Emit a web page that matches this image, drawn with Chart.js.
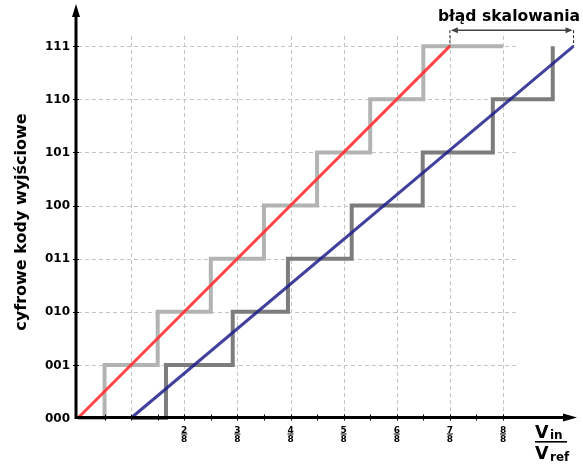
<!DOCTYPE html>
<html>
<head>
<meta charset="utf-8">
<script src="https://cdn.jsdelivr.net/npm/chart.js@4/dist/chart.umd.min.js"></script>
<style>
  html, body { margin: 0; padding: 0; background: #fff; }
  #wrap { width: 583px; height: 469px; }
</style>
</head>
<body>
<div id="wrap"><canvas id="c" width="583" height="469"></canvas></div>
<script>
// Output codes of a 3-bit converter and their labels
const codes = [0, 1, 2, 3, 4, 5, 6, 7];
const codeLabels = ['000', '001', '010', '011', '100', '101', '110', '111'];

// Ideal transfer line (Vin/Vref -> code)
const idealLineX = [0, 7 / 8];
const idealLineY = [0, 7];

// Ideal staircase: code k starts at edge k
const idealEdges = [0, 1 / 16, 3 / 16, 5 / 16, 7 / 16, 9 / 16, 11 / 16, 13 / 16, 1];
const idealCodes = [0, 1, 2, 3, 4, 5, 6, 7, 7];

// Converter with offset and gain error
const realLineX = [0.125, 1.166];
const realLineY = [0, 7];
const realEdges = [0.125, 0.207, 0.364, 0.494, 0.644, 0.811, 0.976, 1.117];
const realCodes = [0, 1, 2, 3, 4, 5, 6, 7];

// x-axis fraction labels (k/8) and grid positions
const fracNumerators = [2, 3, 4, 5, 6, 7, 8];
const gridEighths = [1, 2, 3, 4, 5, 6, 7, 8];

const pts = (xs, ys) => xs.map((x, i) => ({ x, y: ys[i] }));

const BOLD = 'bold %spx "DejaVu Sans", "Liberation Sans", sans-serif';
const font = s => BOLD.replace('%s', s);

const decor = {
  id: 'decor',
  beforeDatasetsDraw(chart) {
    const { ctx, scales: { x, y } } = chart;
    ctx.save();
    ctx.strokeStyle = '#c4c4c4';
    ctx.lineWidth = 1;
    ctx.setLineDash([4, 3]);
    // horizontal grid
    codes.forEach(c => {
      if (c === 0) return;
      const py = Math.round(y.getPixelForValue(c)) + 0.5;
      ctx.beginPath();
      ctx.moveTo(x.getPixelForValue(0), py);
      ctx.lineTo(x.getPixelForValue(1.03), py);
      ctx.stroke();
    });
    // vertical grid
    gridEighths.forEach(k => {
      const px = Math.round(x.getPixelForValue(k / 8)) + 0.5;
      ctx.beginPath();
      ctx.moveTo(px, y.getPixelForValue(0));
      ctx.lineTo(px, y.getPixelForValue(7.22));
      ctx.stroke();
    });
    ctx.restore();
  },
  afterDatasetsDraw(chart) {
    const { ctx, scales: { x, y } } = chart;
    const x0 = x.getPixelForValue(0) - 2;
    const y0 = y.getPixelForValue(0) - 0.5;
    ctx.save();

    // axes with arrows
    ctx.strokeStyle = '#000';
    ctx.fillStyle = '#000';
    ctx.lineWidth = 3;
    ctx.beginPath();
    ctx.moveTo(x0, y0 + 1.5);
    ctx.lineTo(x0, 14);
    ctx.moveTo(x0 - 1.5, y0);
    ctx.lineTo(566, y0);
    ctx.stroke();
    ctx.beginPath();
    ctx.moveTo(x0, 4);
    ctx.lineTo(x0 - 4, 17);
    ctx.lineTo(x0 + 4, 17);
    ctx.closePath();
    ctx.fill();
    ctx.beginPath();
    ctx.moveTo(577, y0);
    ctx.lineTo(563, y0 - 4);
    ctx.lineTo(563, y0 + 4);
    ctx.closePath();
    ctx.fill();

    // small ticks on x axis every 1/16
    ctx.lineWidth = 1;
    for (let k = 1; k <= 16; k++) {
      const px = Math.round(x.getPixelForValue(k / 16)) + 0.5;
      ctx.beginPath();
      ctx.moveTo(px, y0 - 3);
      ctx.lineTo(px, y0 + 3);
      ctx.stroke();
    }
    // small ticks on y axis
    codes.forEach(c => {
      if (c === 0) return;
      const py = Math.round(y.getPixelForValue(c)) + 0.5;
      ctx.beginPath();
      ctx.moveTo(x0 - 3, py);
      ctx.lineTo(x0 + 3, py);
      ctx.stroke();
    });

    // y tick labels
    ctx.font = font(12);
    ctx.textAlign = 'right';
    ctx.textBaseline = 'middle';
    codes.forEach((c, i) => {
      ctx.fillText(codeLabels[i], 70, y.getPixelForValue(c) + 0.5);
    });

    // x fraction labels
    ctx.font = font(9);
    ctx.textAlign = 'center';
    ctx.textBaseline = 'alphabetic';
    fracNumerators.forEach(n => {
      const px = x.getPixelForValue(n / 8);
      ctx.fillText(String(n), px, 432.5);
      ctx.fillRect(px - 3, 433.5, 6, 1);
      ctx.fillText('8', px, 441.5);
    });

    // x axis title Vin / Vref
    ctx.textAlign = 'left';
    ctx.font = font(17.5);
    ctx.fillText('V', 535, 437.5);
    ctx.fillText('V', 535, 458.5);
    ctx.font = font(12);
    ctx.fillText('in', 550, 439);
    ctx.fillText('ref', 550, 461);
    ctx.fillRect(535, 441, 32, 1.6);

    // y axis title
    ctx.save();
    ctx.translate(22, 222);
    ctx.rotate(-Math.PI / 2);
    ctx.font = font(16);
    ctx.textAlign = 'center';
    ctx.textBaseline = 'middle';
    ctx.fillText('cyfrowe kody wyjściowe', 0, 0);
    ctx.restore();

    // scale error bracket
    const bxL = x.getPixelForValue(idealLineX[1]);
    const bxR = x.getPixelForValue(realLineX[1]);
    const by = y.getPixelForValue(7.3);
    const byBottom = y.getPixelForValue(7);
    ctx.strokeStyle = '#222';
    ctx.lineWidth = 1;
    ctx.setLineDash([3, 2]);
    ctx.beginPath();
    ctx.moveTo(bxL, by);
    ctx.lineTo(bxL, byBottom);
    ctx.moveTo(bxR, by);
    ctx.lineTo(bxR, byBottom);
    ctx.stroke();
    ctx.setLineDash([]);
    ctx.strokeStyle = '#444';
    ctx.fillStyle = '#444';
    ctx.lineWidth = 1.5;
    ctx.beginPath();
    ctx.moveTo(bxL + 3, by);
    ctx.lineTo(bxR - 3, by);
    ctx.stroke();
    ctx.beginPath();
    ctx.moveTo(bxL + 1, by);
    ctx.lineTo(bxL + 8, by - 3);
    ctx.lineTo(bxL + 8, by + 3);
    ctx.closePath();
    ctx.moveTo(bxR - 1, by);
    ctx.lineTo(bxR - 8, by - 3);
    ctx.lineTo(bxR - 8, by + 3);
    ctx.closePath();
    ctx.fill();

    ctx.fillStyle = '#000';
    ctx.font = font(15.6);
    ctx.textAlign = 'center';
    ctx.textBaseline = 'alphabetic';
    ctx.fillText('błąd skalowania', 509, 21);

    ctx.restore();
  }
};

new Chart(document.getElementById('c'), {
  type: 'scatter',
  data: {
    datasets: [
      {
        label: 'ideal',
        data: pts(idealLineX, idealLineY),
        showLine: true,
        borderColor: 'rgba(255, 50, 50, 0.9)',
        borderWidth: 3,
        pointRadius: 0,
        order: 0,
        clip: false
      },
      {
        label: 'real',
        data: pts(realLineX, realLineY),
        showLine: true,
        borderColor: 'rgba(30, 30, 140, 0.85)',
        borderWidth: 3,
        pointRadius: 0,
        order: 0,
        clip: false
      },
      {
        label: 'ideal steps',
        data: pts(idealEdges, idealCodes),
        showLine: true,
        stepped: 'before',
        borderColor: '#b3b3b3',
        borderWidth: 4,
        borderJoinStyle: 'miter',
        pointRadius: 0,
        order: 1,
        clip: false
      },
      {
        label: 'real steps',
        data: pts(realEdges, realCodes),
        showLine: true,
        stepped: 'before',
        borderColor: '#7d7d7d',
        borderWidth: 4,
        borderJoinStyle: 'miter',
        pointRadius: 0,
        order: 1,
        clip: false
      }
    ]
  },
  options: {
    responsive: false,
    animation: false,
    layout: { padding: { left: 78, right: 5.6, top: 14.25, bottom: 51 } },
    plugins: { legend: { display: false }, tooltip: { enabled: false } },
    scales: {
      x: { type: 'linear', display: false, min: 0, max: 1.175 },
      y: { type: 'linear', display: false, min: 0, max: 7.6 }
    }
  },
  plugins: [decor]
});
</script>
</body>
</html>
